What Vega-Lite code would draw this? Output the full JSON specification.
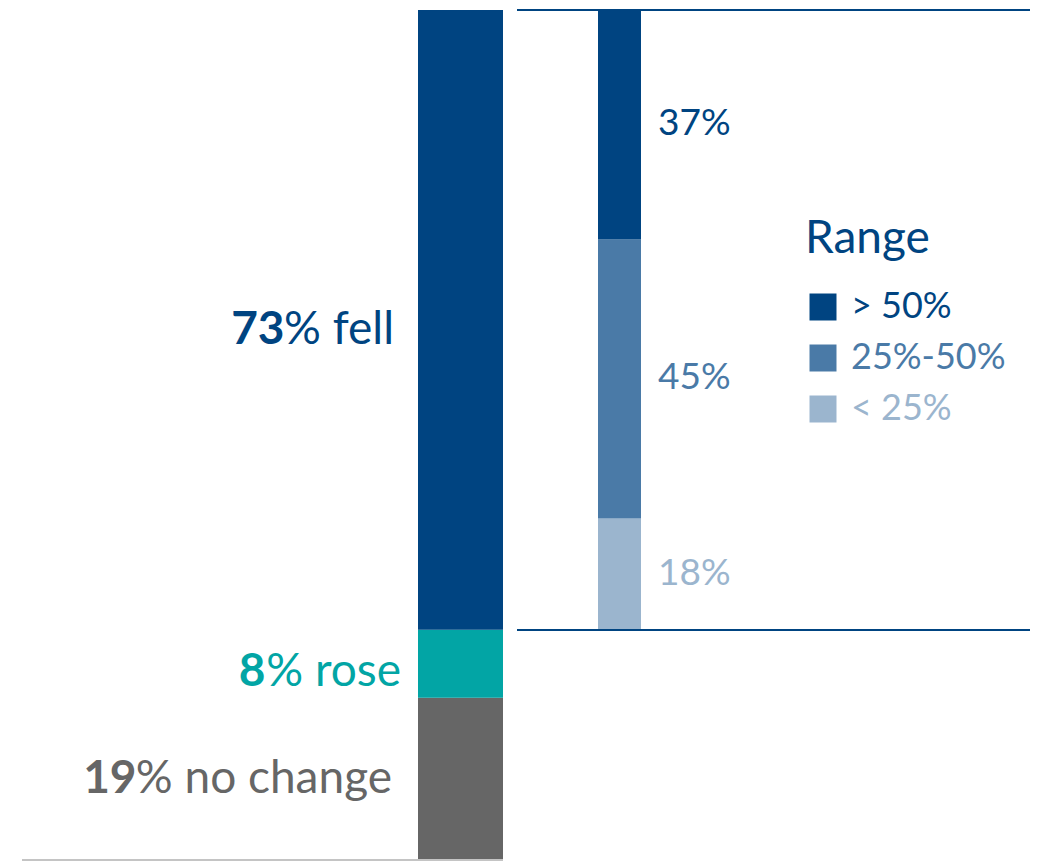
{
  "$schema": "https://vega.github.io/schema/vega-lite/v6.json",
  "width": 1063,
  "height": 861,
  "autosize": {"type": "none"},
  "padding": 0,
  "config": {"view": {"stroke": null}, "font": "Lato"},
  "datasets": {
    "overall": [
      {"status": "no change", "share": 19, "num": "19", "rest": "% no change"},
      {"status": "rose", "share": 8, "num": "8", "rest": "% rose"},
      {"status": "fell", "share": 73, "num": "73", "rest": "% fell"}
    ],
    "breakdown": [
      {"range": "< 25%", "share": 18, "label": "18%"},
      {"range": "25%-50%", "share": 45, "label": "45%"},
      {"range": "> 50%", "share": 37, "label": "37%"}
    ],
    "frame": [{"edge": 0}, {"edge": 100}]
  },
  "resolve": {"scale": {"x": "independent", "y": "independent", "color": "independent"}},
  "layer": [
    {
      "data": {"name": "overall"},
      "transform": [
        {"stack": "share", "groupby": [], "as": ["y0", "y1"]},
        {"calculate": "(datum.y0 + datum.y1) / 2", "as": "ymid"}
      ],
      "encoding": {
        "x": {"datum": "Total", "type": "nominal", "scale": {"type": "band", "domain": ["Total"], "range": [418, 503], "paddingInner": 0, "paddingOuter": 0}, "axis": null},
        "color": {"field": "status", "type": "nominal", "scale": {"domain": ["fell", "rose", "no change"], "range": ["#004481", "#02a5a5", "#666666"]}, "legend": null}
      },
      "layer": [
        {
          "mark": {"type": "bar"},
          "encoding": {
            "y": {"field": "y1", "type": "quantitative", "scale": {"domain": [0, 100], "range": [859, 10], "nice": false, "zero": false}, "axis": null},
            "y2": {"field": "y0"}
          }
        },
        {
          "transform": [{"filter": "datum.status === 'fell'"}],
          "layer": [
            {"mark": {"type": "text", "align": "right", "baseline": "alphabetic", "fontSize": 46, "dx": -66.5, "dy": 24.5},
             "encoding": {"y": {"field": "ymid", "type": "quantitative"}, "text": {"field": "rest"}}},
            {"mark": {"type": "text", "align": "right", "baseline": "alphabetic", "fontSize": 46, "fontWeight": "bold", "dx": -176, "dy": 24.5},
             "encoding": {"y": {"field": "ymid", "type": "quantitative"}, "text": {"field": "num"}}}
          ]
        },
        {
          "transform": [{"filter": "datum.status === 'rose'"}],
          "layer": [
            {"mark": {"type": "text", "align": "right", "baseline": "alphabetic", "fontSize": 46, "dx": -59.5, "dy": 22},
             "encoding": {"y": {"field": "ymid", "type": "quantitative"}, "text": {"field": "rest"}}},
            {"mark": {"type": "text", "align": "right", "baseline": "alphabetic", "fontSize": 46, "fontWeight": "bold", "dx": -195, "dy": 22},
             "encoding": {"y": {"field": "ymid", "type": "quantitative"}, "text": {"field": "num"}}}
          ]
        },
        {
          "transform": [{"filter": "datum.status === 'no change'"}],
          "layer": [
            {"mark": {"type": "text", "align": "right", "baseline": "alphabetic", "fontSize": 46, "dx": -68.5, "dy": 14.7},
             "encoding": {"y": {"field": "ymid", "type": "quantitative"}, "text": {"field": "rest"}}},
            {"mark": {"type": "text", "align": "right", "baseline": "alphabetic", "fontSize": 46, "fontWeight": "bold", "dx": -324, "dy": 14.7},
             "encoding": {"y": {"field": "ymid", "type": "quantitative"}, "text": {"field": "num"}}}
          ]
        }
      ]
    },
    {
      "data": {"name": "breakdown"},
      "transform": [
        {"stack": "share", "groupby": [], "as": ["y0", "y1"]},
        {"calculate": "(datum.y0 + datum.y1) / 2", "as": "ymid"}
      ],
      "encoding": {
        "x": {"datum": "Fell", "type": "nominal", "scale": {"type": "band", "domain": ["Fell"], "range": [598, 641], "paddingInner": 0, "paddingOuter": 0}, "axis": null}
      },
      "layer": [
        {
          "mark": {"type": "bar"},
          "encoding": {
            "y": {"field": "y1", "type": "quantitative", "scale": {"domain": [0, 100], "range": [630, 10], "nice": false, "zero": false}, "axis": null},
            "y2": {"field": "y0"},
            "color": {
              "field": "range", "type": "nominal",
              "scale": {"domain": ["> 50%", "25%-50%", "< 25%"], "range": ["#004481", "#4a7aa7", "#9bb5ce"]},
              "legend": {
                "orient": "none", "legendX": 805, "legendY": 217,
                "title": "Range", "titleFont": "Lato", "titleFontSize": 46, "titleFontWeight": "normal", "titleColor": "#004481", "titlePadding": 26,
                "symbolType": "square", "symbolSize": 729, "symbolStrokeWidth": 0, "symbolOpacity": 1,
                "labelFont": "Lato", "labelFontSize": 36, "labelOffset": 10, "rowPadding": 15,
                "encode": {"labels": {"update": {"fill": {"signal": "datum.value === '> 50%' ? '#004481' : datum.value === '25%-50%' ? '#4a7aa7' : '#9bb5ce'"}}}}
              }
            }
          }
        },
        {
          "mark": {"type": "text", "align": "left", "baseline": "alphabetic", "fontSize": 37, "dx": 38.5, "dy": 10.5},
          "encoding": {
            "y": {"field": "ymid", "type": "quantitative"},
            "text": {"field": "label"},
            "color": {"field": "range", "type": "nominal", "legend": null}
          }
        }
      ]
    },
    {
      "data": {"name": "frame"},
      "mark": {"type": "rule", "color": "#004481", "strokeWidth": 2},
      "encoding": {
        "x": {"datum": 0, "type": "quantitative", "scale": {"domain": [0, 1], "range": [517, 1030], "nice": false}, "axis": null},
        "x2": {"datum": 1},
        "y": {"field": "edge", "type": "quantitative", "scale": {"domain": [0, 100], "range": [630, 10], "nice": false}, "axis": null}
      }
    },
    {
      "data": {"values": [{"level": 0}]},
      "mark": {"type": "rule", "color": "#c4c4c4", "strokeWidth": 2},
      "encoding": {
        "x": {"datum": 0, "type": "quantitative", "scale": {"domain": [0, 1], "range": [22, 503], "nice": false}, "axis": null},
        "x2": {"datum": 1},
        "y": {"field": "level", "type": "quantitative", "scale": {"domain": [0, 100], "range": [860, 10], "nice": false}, "axis": null}
      }
    }
  ]
}
